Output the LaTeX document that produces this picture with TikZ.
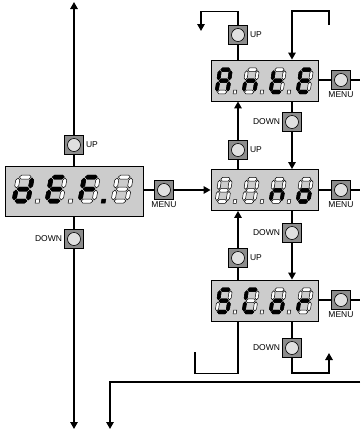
\documentclass[tikz,border=0pt]{standalone}
\usepackage{fontspec}
\setmainfont{Liberation Sans}
\usetikzlibrary{arrows.meta,positioning}
\definecolor{dispgray}{gray}{0.8}
\definecolor{btndark}{gray}{0.55}
\definecolor{btnlight}{gray}{0.88}
\tikzset{
  wire/.style={line width=1.4pt},
  arr/.style={wire,-{Triangle[length=7pt,width=7.5pt]}},
  display/.style={draw,fill=dispgray,line width=0.9pt,inner sep=0pt,
    minimum width=107pt,minimum height=41pt},
  btn/.style={draw,fill=btndark,line width=0.6pt,minimum size=19pt,inner sep=0pt,
    path picture={\draw[fill=btnlight,line width=0.6pt]
      (path picture bounding box.center) circle[radius=6.5pt];}},
  lbl/.style={font=\fontsize{8.5}{10}\selectfont,inner sep=0pt},
  segoff/.style={fill=white,draw=black,line width=0.5pt},
  segon/.style={fill=black,draw=black,line width=0.5pt},
  nodp/.style={draw=none,fill=none}
}
% seven segments, local units, y up
\newcommand{\sega}{(1.1,24)--(3.1,26)--(10.9,26)--(12.9,24)--(10.9,22)--(3.1,22)--cycle}
\newcommand{\segb}{(14,13.1)--(16,15.1)--(16,20.9)--(14,22.9)--(12,20.9)--(12,15.1)--cycle}
\newcommand{\segc}{(14,1.1)--(16,3.1)--(16,8.9)--(14,10.9)--(12,8.9)--(12,3.1)--cycle}
\newcommand{\segd}{(1.1,0)--(3.1,2)--(10.9,2)--(12.9,0)--(10.9,-2)--(3.1,-2)--cycle}
\newcommand{\sege}{(0,1.1)--(2,3.1)--(2,8.9)--(0,10.9)--(-2,8.9)--(-2,3.1)--cycle}
\newcommand{\segf}{(0,13.1)--(2,15.1)--(2,20.9)--(0,22.9)--(-2,20.9)--(-2,15.1)--cycle}
\newcommand{\segg}{(1.1,12)--(3.1,14)--(10.9,14)--(12.9,12)--(10.9,10)--(3.1,10)--cycle}
% x, y, xscale, yscale, lit segments, point style
\newcommand{\segdigit}[6]{%
  \begin{scope}[shift={(#1,#2)},xscale=#3,yscale=-#4,xslant=-0.18]
    \foreach \s in {a,b,c,d,e,f,g}{%
      \expandafter\let\expandafter\sgpath\csname seg\s\endcsname
      \draw[segoff] \sgpath;}
    \edef\seglist{#5}%
    \foreach \s in \seglist{%
      \ifcsname seg\s\endcsname
        \expandafter\let\expandafter\sgpath\csname seg\s\endcsname
        \draw[segon] \sgpath;
      \fi}
    \draw[#6] (21.5,-2) rectangle (25.5,2);
  \end{scope}}

\begin{document}
\begin{tikzpicture}[x=1pt,y=-1pt]
  \useasboundingbox (0,0) rectangle (360,432);
  % displays
  \node[display,minimum width=138pt,minimum height=50pt] (def) at (74,191) {};
  \node[display] (ante) at (264.5,80.5) {};
  \node[display] (none) at (264.5,190) {};
  \node[display] (scor) at (264.5,300.5) {};
  % keys
  \node[btn] (defup) at (74,145) {};
  \node[btn] (defdown) at (74,239) {};
  \node[btn] (defmenu) at (164,190) {};
  \node[btn] (anteup) at (238,35) {};
  \node[btn] (antemenu) at (341,80) {};
  \node[btn] (antedown) at (292,122) {};
  \node[btn] (noneup) at (238,150) {};
  \node[btn] (nonemenu) at (341,190) {};
  \node[btn] (nonedown) at (292,233) {};
  \node[btn] (scorup) at (238,258) {};
  \node[btn] (scormenu) at (341,300) {};
  \node[btn] (scordown) at (292,348) {};
  \foreach \b in {defup,anteup,noneup,scorup}
    \node[lbl,right=2pt of \b] (\b-l) {UP};
  \foreach \b in {defdown,antedown,nonedown,scordown}
    \node[lbl,left=2pt of \b] (\b-l) {DOWN};
  \foreach \b in {defmenu,antemenu,nonemenu,scormenu}
    \node[lbl,below=1.5pt of \b] (\b-l) {MENU};
  % free ends
  \coordinate (deftop) at (74,2);
  \coordinate (defend) at (74,429);
  \coordinate (wrapA) at (201,31);
  \coordinate (wrapB) at (329,25);
  \coordinate (wrapC) at (329,353);
  \coordinate (wrapD) at (195,352);
  \coordinate (wrapE) at (360,382);
  \coordinate (wrapF) at (110,429);
  % left column
  \draw[wire] (def) -- (defup);
  \draw[arr] (defup) -- (deftop);
  \draw[wire] (def) -- (defdown);
  \draw[arr] (defdown) -- (defend);
  \draw[wire] (def.east |- defmenu) -- (defmenu);
  \draw[arr] (defmenu) -- (none);
  % right column
  \draw[wire] (ante.north -| anteup) -- (anteup);
  \draw[arr] (anteup.north) -- ++(0,-14) -| (wrapA);
  \draw[arr] (wrapB) -- ++(0,-14) -| (ante.north -| antedown);
  \draw[wire] (ante.south -| antedown) -- (antedown);
  \draw[arr] (antedown) -- (none.north -| antedown);
  \draw[wire] (none.north -| noneup) -- (noneup);
  \draw[arr] (noneup) -- (ante.south -| noneup);
  \draw[wire] (none.south -| nonedown) -- (nonedown);
  \draw[arr] (nonedown) -- (scor.north -| nonedown);
  \draw[wire] (scor.north -| scorup) -- (scorup);
  \draw[arr] (scorup) -- (none.south -| scorup);
  \draw[wire] (scor.south -| scordown) -- (scordown);
  \draw[arr] (scordown.south) -- ++(0,15) -| (wrapC);
  \draw[wire] (scor.south -| scorup) -- ++(0,52) -| (wrapD);
  \draw[arr] (wrapE) -| (wrapF);
  \foreach \d in {ante,none,scor}{
    \draw[wire] (\d.east |- \d menu) -- (\d menu);
    \draw[wire] (\d menu.east) -- ++(9.5,0);
  }
  % digits
  \foreach \lit/\dp [count=\i from 0] in {{b,c,d,e,g}/segoff,{a,d,e,f,g}/segoff,{a,e,f,g}/segon,{}/nodp}
    {\segdigit{14+33*\i}{201}{1}{1}{\lit}{\dp}}
  \foreach \lit/\dp [count=\i from 0] in {{a,b,c,e,f,g}/segoff,{c,e,g}/segoff,{d,e,f,g}/segoff,{a,d,e,f,g}/nodp}
    {\segdigit{216.6+27*\i}{92}{0.78}{0.93}{\lit}{\dp}}
  \foreach \lit/\dp [count=\i from 0] in {{}/segoff,{}/segoff,{c,e,g}/segoff,{c,d,e,g}/nodp}
    {\segdigit{216.6+27*\i}{201.5}{0.78}{0.93}{\lit}{\dp}}
  \foreach \lit/\dp [count=\i from 0] in {{a,c,d,f,g}/segoff,{a,d,e,f}/segoff,{c,d,e,g}/segoff,{e,g}/nodp}
    {\segdigit{216.6+27*\i}{312}{0.78}{0.93}{\lit}{\dp}}
\end{tikzpicture}
\end{document}
